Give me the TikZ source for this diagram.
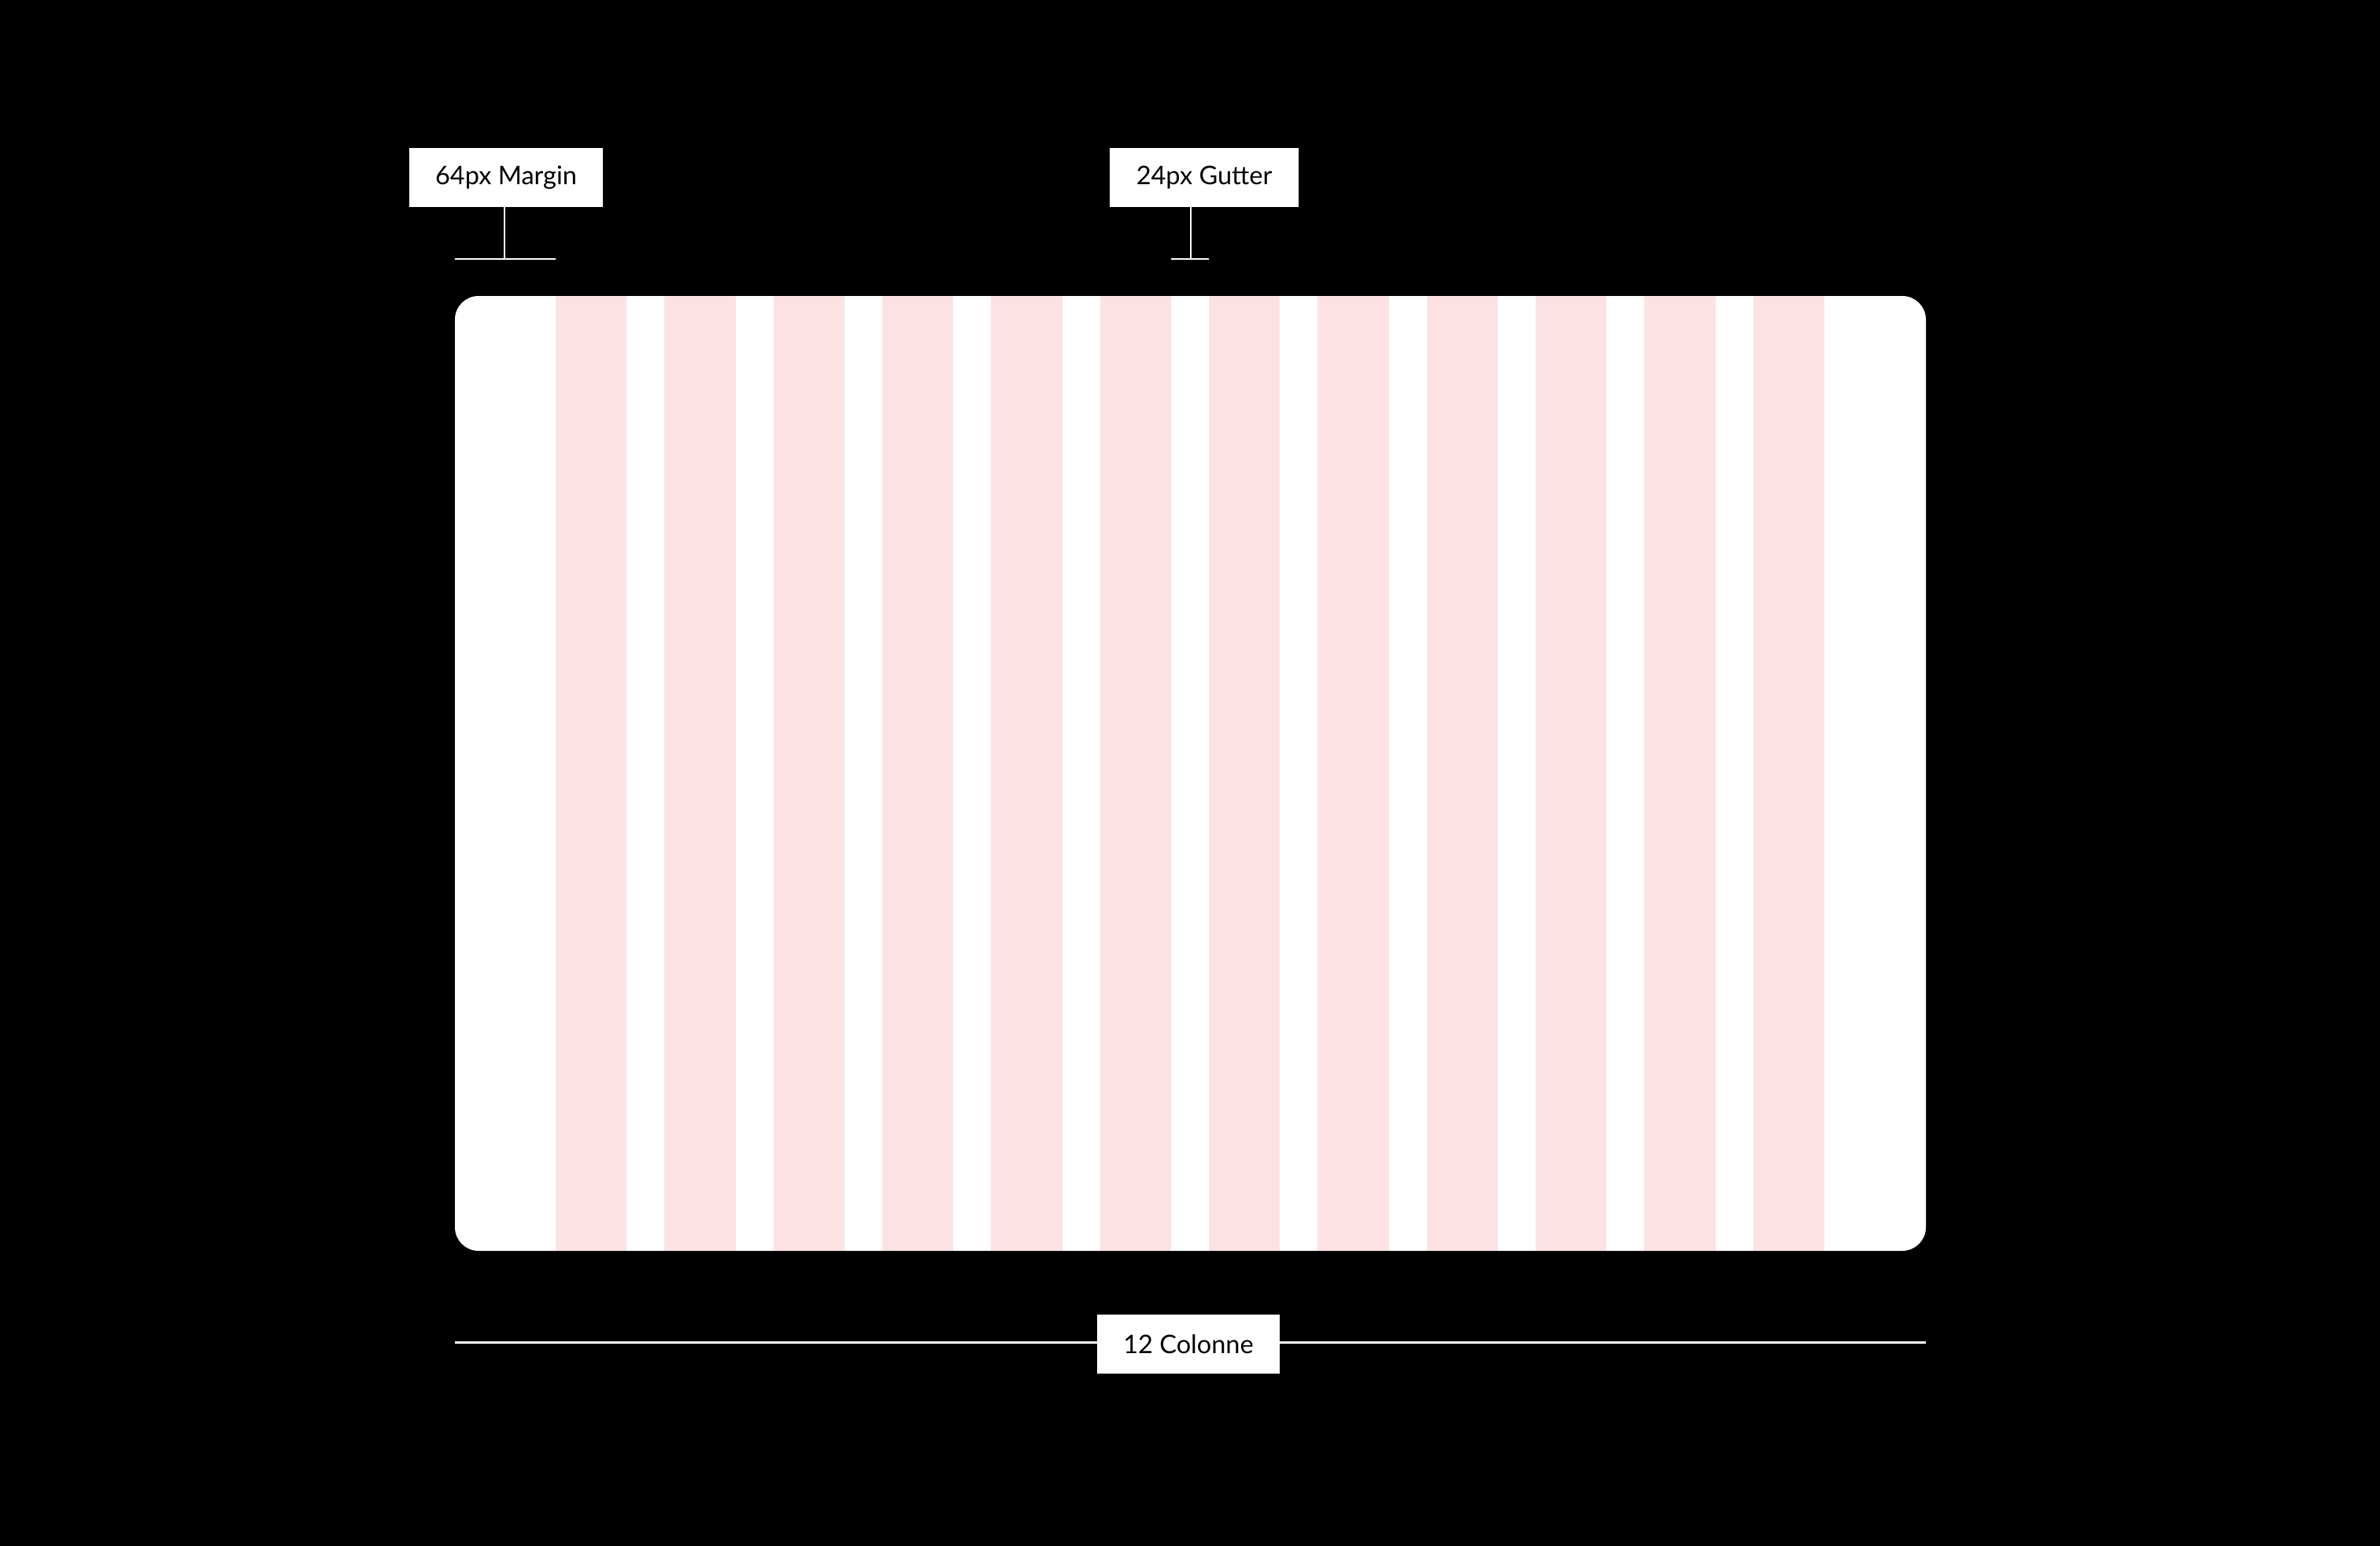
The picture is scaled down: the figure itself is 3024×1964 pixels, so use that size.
\documentclass[tikz,border=0pt]{standalone}
\usepackage{fontspec}
\setmainfont{Lato}
\definecolor{colpink}{RGB}{253,226,227}
\tikzset{
  label box/.style={fill=white, draw=none, inner sep=0pt, font=\fontsize{32.5}{36}\selectfont, text=black},
  guide/.style={draw=white, line width=2pt},
  colbar/.style={fill=colpink, draw=none}
}
\begin{document}
\begin{tikzpicture}[x=1pt,y=-1pt]
\fill[black] (0,0) rectangle (3024,1964);
\useasboundingbox (0,0) rectangle (3024,1964);
% canvas
\fill[white, rounded corners=30pt] (578,376) rectangle (2447,1589);
% columns
\foreach \i in {0,...,11} {
  \pgfmathsetmacro{\xl}{706+\i*138.333}
  \pgfmathsetmacro{\xr}{\xl+90.333}
  \fill[colbar] (\xl,376) rectangle (\xr,1589);
}
% labels
\node[label box, minimum width=246pt, minimum height=75pt] (margin) at (643,225.5) {64px Margin};
\node[label box, minimum width=240pt, minimum height=75pt] (gutter) at (1530,225.5) {24px Gutter};
% margin guide
\coordinate (mtop) at (641,263);
\coordinate (mbot) at (641,329);
\coordinate (ml) at (578,329);
\coordinate (mr) at (706,329);
\draw[guide] (mtop) -- (mbot);
\draw[guide] (ml) -- (mr);
% gutter guide
\coordinate (gtop) at (1513,263);
\coordinate (gbot) at (1513,329);
\coordinate (gl) at (1488,329);
\coordinate (gr) at (1536,329);
\draw[guide] (gtop) -- (gbot);
\draw[guide] (gl) -- (gr);
% bottom span
\coordinate (bl) at (578,1705);
\coordinate (br) at (2447,1705);
\draw[draw=white, line width=3pt] (bl) -- (br);
\node[label box, minimum width=232pt, minimum height=75pt] (cols) at (1510,1707.5) {12 Colonne};
\end{tikzpicture}
\end{document}
